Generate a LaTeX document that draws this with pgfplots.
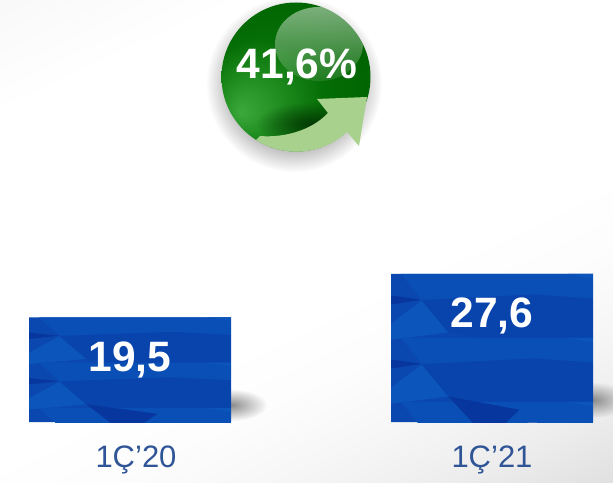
\documentclass[border=0pt]{standalone}
\usepackage{pgfplots}
\pgfplotsset{compat=1.18}
\usepackage{fontspec}
\setmainfont{Liberation Sans}
\usetikzlibrary{fadings}
\tikzfading[name=fade out,inner color=transparent!0,outer color=transparent!100]
\tikzfading[name=hl,top color=transparent!52,bottom color=transparent!90]
\definecolor{barbase}{HTML}{0A48B0}
\definecolor{barlight}{HTML}{0A4FB6}
\definecolor{barlighter}{HTML}{0B55BB}
\definecolor{bardark}{HTML}{0943AC}
\definecolor{bardarker}{HTML}{07379E}
\definecolor{labelblue}{HTML}{2F5597}
\definecolor{arrowgreen}{HTML}{A9D18E}
\definecolor{sphA}{HTML}{3CA93C}
\definecolor{sphB}{HTML}{1F8C1F}
\definecolor{sphC}{HTML}{066E06}
\definecolor{sphD}{HTML}{006400}
\definecolor{sphdark}{HTML}{043A04}
\pgfdeclareverticalshading{bgd}{100bp}{color(0bp)=(white!88!black);color(16.8bp)=(white!88!black);color(23.4bp)=(white!93!black);color(30.1bp)=(white!96.5!black);color(36.7bp)=(white!99!black);color(43.4bp)=(white);color(73.2bp)=(white);color(83.2bp)=(white!97.5!black);color(100bp)=(white!97.5!black)}
\pgfdeclareradialshading{sphereglow}{\pgfpoint{-18.7bp}{-12bp}}{color(0bp)=(sphA);color(10bp)=(sphB);color(20bp)=(sphC);color(33bp)=(sphD);color(50bp)=(sphD)}
\newcommand\uv[2]{(xyz cs:x=#1,y=#2)}
% one tile of the facetted bar texture
\newcommand\Tile{%
 \fill[barlight] \uv{30}{0} -- \uv{606}{0} -- \uv{606}{75} -- \uv{430}{62} -- \uv{92}{78} -- cycle;
 \fill[barlighter] \uv{530}{0} -- \uv{606}{0} -- \uv{606}{15} -- cycle;
 \fill[bardarker] \uv{0}{65} -- \uv{92}{78} -- \uv{0}{92} -- cycle;
 \fill[barlighter] \uv{0}{150} -- \uv{92}{80} -- \uv{172}{176} -- \uv{0}{198} -- cycle;
 \fill[bardark] \uv{92}{80} -- \uv{430}{62} -- \uv{385}{216} -- \uv{172}{176} -- cycle;
 \fill[bardark] \uv{430}{62} -- \uv{606}{75} -- \uv{606}{210} -- \uv{385}{216} -- cycle;
 \fill[barlighter] \uv{385}{216} -- \uv{606}{210} -- \uv{606}{265} -- \uv{440}{255} -- cycle;
}
\newcommand\BarTexture[4]{\pgfplotsextra{%
 \begin{scope}
  \clip (axis cs:#1,0) rectangle (axis cs:#2,#3);
  \begin{scope}[shift={(axis cs:#1,#3)},x=.3333pt,y=-#4]
   \Tile
   \begin{scope}[yshift=-192*#4]
    \Tile
    \begin{scope}[yshift=-192*#4]
     \Tile
    \end{scope}
    \fill[bardarker] \uv{172}{176} -- \uv{385}{216} -- \uv{340}{260} -- \uv{250}{260} -- cycle;
   \end{scope}
  \end{scope}
 \end{scope}}}
\begin{document}
\begin{tikzpicture}
\useasboundingbox (0,-60pt) rectangle (613pt,422pt);
\shade[shading=bgd,shading angle=25] (0,-60pt) rectangle (613pt,422pt);
\begin{scope}[shift={(0,422pt)},x=1pt,y=-1pt]
 % soft shadows of the bars and of the sphere
 \fill[black!45,path fading=fade out] (231,405) ellipse [x radius=36,y radius=16];
 \fill[black!45,path fading=fade out] (593,400) ellipse [x radius=36,y radius=18];
 \fill[black,path fading=fade out] (294,84) circle [radius=88];
 % sphere
 \begin{scope}
  \clip (296,77) circle [radius=74.5];
  \shade[shading=sphereglow] (221,2) rectangle (371,152);
  \fill[sphdark,path fading=fade out] (312,124) ellipse [x radius=56,y radius=22];
  \fill[white,path fading=hl] (319,44) ellipse [x radius=44,y radius=37];
 \end{scope}
 % arrow
 \fill[arrowgreen] (367,97) -- (317,99) -- (328,113) .. controls (312,130) and (285,138) .. (260,136) -- (256,140)
   .. controls (284.4,158.1) and (322.3,154.9) .. (347,132) -- (359,146) -- cycle;
\end{scope}
\begin{axis}[
  at={(0,0)},anchor=south west,scale only axis,width=613pt,height=422pt,
  xmin=0,xmax=613,ymin=0,ymax=78.58,
  ybar,bar width=202pt,bar shift=0pt,clip=false,
  axis line style={draw=none},major tick length=0pt,
  ytick=\empty,xtick={136,492},xticklabels={1Ç’20,1Ç’21},
  xticklabel style={font=\fontsize{31}{36}\selectfont,text=labelblue,yshift=-20pt},
]
\addplot[fill=barbase,draw=none] coordinates {(130,19.5)(492,27.6)};
\BarTexture{29}{231}{19.5}{.2365pt}
\BarTexture{391}{593}{27.6}{.3333pt}
\addplot[draw=none,fill=none,forget plot,
  nodes near coords,
  nodes near coords align={below},
  every node near coord/.append style={font=\fontsize{42.5}{48}\selectfont\bfseries,text=white,yshift=-21pt,
    /pgf/number format/.cd,use comma,fixed,fixed zerofill,precision=1,assume math mode=true},
] coordinates {(130,19.5)(492,27.6)};
\end{axis}
\begin{scope}[shift={(0,422pt)},x=1pt,y=-1pt]
 \node[text=white,font=\fontsize{42.5}{48}\selectfont\bfseries] at (297,67) {41,6\%};
\end{scope}
\end{tikzpicture}
\end{document}
